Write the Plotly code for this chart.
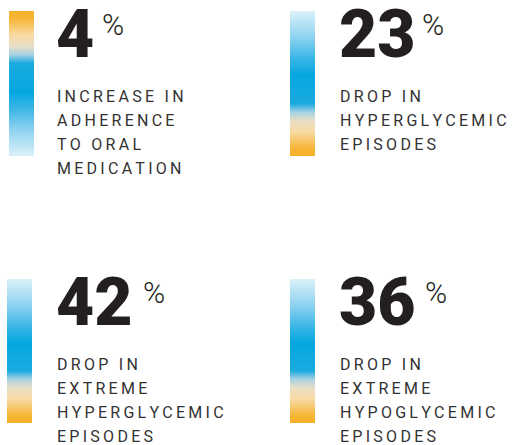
import numpy as np
import plotly.graph_objects as go

# ---- data ----
values = [4, 23, 42, 36]
labels = [
    ["INCREASE IN", "ADHERENCE", "TO ORAL", "MEDICATION"],
    ["DROP IN", "HYPERGLYCEMIC", "EPISODES"],
    ["DROP IN", "EXTREME", "HYPERGLYCEMIC", "EPISODES"],
    ["DROP IN", "EXTREME", "HYPOGLYCEMIC", "EPISODES"],
]
orange_on_top = [True, False, False, False]

# ---- layout (pixel coordinates) ----
W, H = 517, 445
bar_x = [(9, 34), (290, 315), (7, 32), (290, 315)]
bar_y = [(11, 156), (11, 156), (279, 423), (279, 423)]
text_x = [57, 340, 57, 340]
num_cy = [34, 34, 302, 302]
pct_x = [100, 420, 141, 423]
pct_cy = [24, 24, 292, 292]
line_y0 = [96, 96, 364, 364]
line_step = 24

scale_top_orange = [
    [0.00, "#F6B12C"], [0.05, "#F6B535"], [0.16, "#F8D9A2"], [0.24, "#EADFC6"],
    [0.30, "#A6D2E2"], [0.36, "#1AAAE0"], [0.56, "#05A7E0"], [0.68, "#3DB7E6"],
    [0.82, "#8DD2F0"], [1.00, "#DAF0F9"],
]
scale_top_pale = [[1 - p, c] for p, c in reversed(scale_top_orange)]

NUM_FONT = "Roboto"
LBL_FONT = "Roboto"
SP = "\u2009"

fig = go.Figure()
annotations = []
for i, v in enumerate(values):
    x0, x1 = bar_x[i]
    y0, y1 = bar_y[i]
    n = 145
    z = np.linspace(0, 1, n).reshape(-1, 1)
    fig.add_trace(go.Heatmap(
        z=z, x=[x0, x1], y=np.linspace(y0, y1, n + 1),
        colorscale=scale_top_orange if orange_on_top[i] else scale_top_pale,
        zmin=0, zmax=1, showscale=False, hoverinfo="skip", zsmooth=False,
    ))
    annotations.append(dict(
        x=text_x[i] - 3, y=num_cy[i], text=str(v), xanchor="left", yanchor="middle",
        showarrow=False, font=dict(family=NUM_FONT, size=66, color="#231F20", weight=900),
    ))
    annotations.append(dict(
        x=pct_x[i], y=pct_cy[i], text="%", xanchor="left", yanchor="middle",
        showarrow=False, font=dict(family=NUM_FONT, size=30, color="#231F20", weight=300),
    ))
    for j, line in enumerate(labels[i]):
        annotations.append(dict(
            x=text_x[i] - 2, y=line_y0[i] + j * line_step, text=SP.join(line),
            xanchor="left", yanchor="middle", showarrow=False,
            font=dict(family=LBL_FONT, size=16, color="#333333", weight=400),
        ))

fig.update_layout(
    width=W, height=H, margin=dict(l=0, r=0, t=0, b=0),
    paper_bgcolor="white", plot_bgcolor="white",
    xaxis=dict(range=[0, W], visible=False, fixedrange=True),
    yaxis=dict(range=[H, 0], visible=False, fixedrange=True),
    annotations=annotations, showlegend=False,
)
fig.write_html(
    "out.html",
    config={"displayModeBar": False},
    post_script="document.body.style.margin='0';document.body.style.overflow='hidden';",
)
